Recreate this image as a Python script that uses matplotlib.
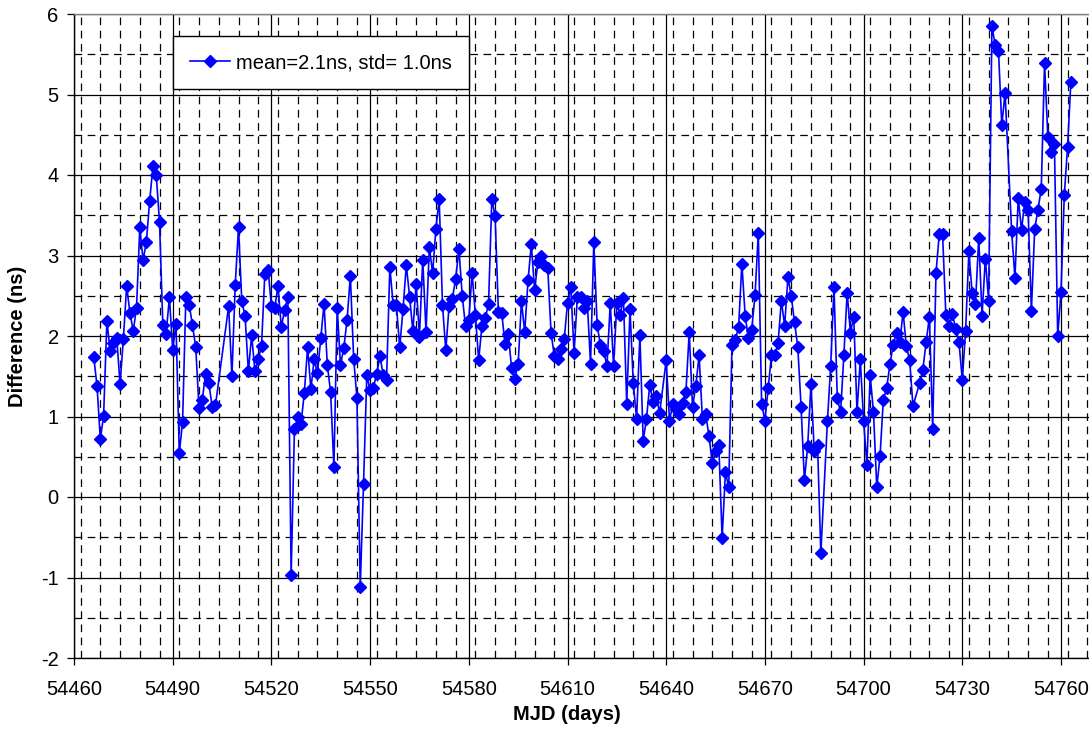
import matplotlib
matplotlib.use("Agg")
import matplotlib.pyplot as plt
from matplotlib.ticker import MultipleLocator

plt.rcParams['font.family'] = ['Liberation Sans', 'DejaVu Sans']
plt.rcParams['lines.scale_dashes'] = False
plt.rcParams['axes.unicode_minus'] = False

mjd = [54466, 54467, 54468, 54469, 54470, 54471, 54472, 54473, 54474, 54475,
       54476, 54477, 54478, 54479, 54480, 54481, 54482, 54483, 54484, 54485,
       54486, 54487, 54488, 54489, 54490, 54491, 54492, 54493, 54494, 54495,
       54496, 54497, 54498, 54499, 54500, 54501, 54502, 54503,
       54507, 54508, 54509, 54510, 54511, 54512, 54513, 54514, 54515, 54516,
       54517, 54518, 54519, 54520, 54521, 54522, 54523, 54524, 54525, 54526,
       54527, 54528, 54529, 54530, 54531, 54532, 54533, 54534, 54535, 54536,
       54537, 54538, 54539, 54540, 54541, 54542, 54543, 54544, 54545, 54546,
       54547, 54548, 54549, 54550, 54551, 54552, 54553, 54554, 54555, 54556,
       54557, 54558, 54559, 54560, 54561, 54562, 54563, 54564, 54565, 54566,
       54567, 54568, 54569, 54570, 54571, 54572, 54573, 54574, 54575, 54576,
       54577, 54578, 54579, 54580, 54581, 54582, 54583, 54584, 54585, 54586,
       54587, 54588, 54589, 54590, 54591, 54592, 54593, 54594, 54595, 54596,
       54597, 54598, 54599, 54600, 54601, 54602, 54603, 54604, 54605, 54606,
       54607, 54608, 54609, 54610, 54611, 54612, 54613, 54614, 54615, 54616,
       54617, 54618, 54619, 54620, 54621, 54622, 54623, 54624, 54625, 54626,
       54627, 54628, 54629, 54630, 54631, 54632, 54633, 54634, 54635, 54636,
       54637, 54638, 54640, 54641, 54642, 54643, 54644, 54645, 54646, 54647,
       54648, 54649, 54650, 54651, 54652, 54653, 54654, 54655, 54656, 54657,
       54658, 54659, 54660, 54661, 54662, 54663, 54664, 54665, 54666, 54667,
       54668, 54669, 54670, 54671, 54672, 54673, 54674, 54675, 54676, 54677,
       54678, 54679, 54680, 54681, 54682, 54683, 54684, 54685, 54686, 54687,
       54689, 54690, 54691, 54692, 54693, 54694, 54695, 54696, 54697, 54698,
       54699, 54700, 54701, 54702, 54703, 54704, 54705, 54706, 54707, 54708,
       54709, 54710, 54711, 54712, 54713, 54714, 54715, 54717, 54718, 54719,
       54720, 54721, 54722, 54723, 54724, 54725, 54726, 54727, 54728, 54729,
       54730, 54731, 54732, 54733, 54734, 54735, 54736, 54737, 54738, 54739,
       54740, 54741, 54742, 54743, 54745, 54746, 54747, 54748, 54749, 54750,
       54751, 54752, 54753, 54754, 54755, 54756, 54757, 54758, 54759, 54760,
       54761, 54762, 54763]

diff_ns = [1.74, 1.38, 0.72, 1.01, 2.19, 1.81, 1.91, 1.97, 1.40, 1.96,
           2.62, 2.29, 2.06, 2.35, 3.35, 2.94, 3.17, 3.68, 4.11, 4.00,
           3.41, 2.14, 2.03, 2.48, 1.83, 2.15, 0.55, 0.93, 2.48, 2.39,
           2.14, 1.86, 1.10, 1.21, 1.53, 1.41, 1.12, 1.14,
           2.37, 1.50, 2.63, 3.35, 2.43, 2.25, 1.56, 2.01, 1.56, 1.71,
           1.88, 2.77, 2.82, 2.37, 2.35, 2.62, 2.11, 2.32, 2.49, -0.97,
           0.84, 1.00, 0.91, 1.29, 1.86, 1.34, 1.71, 1.54, 1.97, 2.40,
           1.64, 1.30, 0.37, 2.35, 1.64, 1.85, 2.20, 2.75, 1.72, 1.23,
           -1.12, 0.16, 1.51, 1.33, 1.36, 1.53, 1.75, 1.51, 1.45, 2.86,
           2.39, 2.38, 1.86, 2.33, 2.88, 2.49, 2.06, 2.65, 1.99, 2.95,
           2.05, 3.11, 2.78, 3.33, 3.70, 2.39, 1.82, 2.37, 2.46, 2.71,
           3.08, 2.50, 2.12, 2.20, 2.78, 2.26, 1.70, 2.13, 2.22, 2.40,
           3.70, 3.49, 2.30, 2.29, 1.90, 2.03, 1.60, 1.47, 1.65, 2.43,
           2.05, 2.69, 3.14, 2.57, 2.92, 2.99, 2.88, 2.84, 2.04, 1.75,
           1.71, 1.84, 1.96, 2.41, 2.61, 1.79, 2.49, 2.49, 2.35, 2.43,
           1.65, 3.17, 2.14, 1.89, 1.81, 1.63, 2.41, 1.63, 2.41, 2.26,
           2.47, 1.16, 2.33, 1.41, 0.97, 2.01, 0.70, 0.97, 1.39, 1.18,
           1.26, 1.04, 1.70, 0.95, 1.15, 1.09, 1.03, 1.17, 1.31, 2.05,
           1.12, 1.38, 1.76, 0.97, 1.03, 0.76, 0.42, 0.57, 0.64, -0.51,
           0.31, 0.12, 1.89, 1.95, 2.11, 2.90, 2.25, 1.97, 2.08, 2.51,
           3.28, 1.16, 0.95, 1.36, 1.76, 1.76, 1.91, 2.44, 2.13, 2.73,
           2.50, 2.17, 1.86, 1.12, 0.21, 0.63, 1.40, 0.57, 0.65, -0.70,
           0.94, 1.63, 2.61, 1.23, 1.05, 1.76, 2.54, 2.04, 2.24, 1.06,
           1.71, 0.94, 0.40, 1.51, 1.06, 0.12, 0.51, 1.21, 1.35, 1.65,
           1.89, 2.04, 1.92, 2.30, 1.87, 1.70, 1.13, 1.41, 1.58, 1.92,
           2.24, 0.85, 2.78, 3.27, 3.27, 2.26, 2.13, 2.27, 2.09, 1.92,
           1.45, 2.06, 3.05, 2.53, 2.40, 3.22, 2.25, 2.96, 2.44, 5.85,
           5.61, 5.54, 4.62, 5.02, 3.30, 2.72, 3.71, 3.32, 3.67, 3.56,
           2.31, 3.33, 3.57, 3.83, 5.39, 4.47, 4.29, 4.39, 2.00, 2.55,
           3.75, 4.35, 5.16]

legend_label = "mean=2.1ns, std= 1.0ns"
x_ticks = [54460, 54490, 54520, 54550, 54580, 54610, 54640, 54670, 54700, 54730, 54760]
y_ticks = [-2, -1, 0, 1, 2, 3, 4, 5, 6]

FS = 14.5
W, H = 1089, 736
fig = plt.figure(figsize=(W / 100, H / 100), dpi=100)
left, right, top, bottom = 74, 1089, 14, 658
ax = fig.add_axes([left / W, 1 - bottom / H, (right - left) / W, (bottom - top) / H])

ax.plot(mjd, diff_ns, '-D', color='#0000FF', mfc='#0000FF', mec='#0000FF',
        ms=6.2, lw=1.2, label=legend_label, zorder=3)

ax.set_xlim(54460, 54460 + (right - left) / 3.29)
ax.set_ylim(-2, 6)
ax.set_xticks(x_ticks)
ax.set_yticks(y_ticks)
ax.xaxis.set_minor_locator(MultipleLocator(6))
ax.yaxis.set_minor_locator(MultipleLocator(0.5))

ax.grid(which='major', color='black', lw=0.9, ls='-', zorder=0)
ax.grid(which='minor', color='black', lw=0.9, ls=(0, (5.5, 4)), zorder=0)
ax.set_axisbelow(True)

ax.tick_params(which='major', direction='out', length=5, width=0.9, labelsize=FS,
               colors='black')
ax.tick_params(axis='x', which='major', pad=11)
ax.tick_params(axis='y', which='major', pad=6)
ax.tick_params(which='minor', length=0)

for s in ['left', 'bottom']:
    ax.spines[s].set_color('black')
    ax.spines[s].set_linewidth(1.0)
ax.spines['top'].set_color('#808080')
ax.spines['top'].set_linewidth(1.0)
ax.spines['right'].set_visible(False)

fig.text(567 / W, 1 - 714 / H, "MJD (days)", ha='center', va='center',
         fontsize=FS, fontweight='bold')
fig.text(18 / W, 1 - 336 / H, "Difference (ns)", ha='center', va='center',
         rotation=90, fontsize=FS, fontweight='bold')

leg = ax.legend(loc='upper left',
                bbox_to_anchor=((172.7 - left) / (right - left), 1 - (36 - top) / (bottom - top)),
                fontsize=FS, frameon=True, fancybox=False, edgecolor='black',
                framealpha=1, borderpad=0.85, handlelength=2.0, borderaxespad=0,
                handletextpad=0.3)
leg.get_frame().set_linewidth(1.0)

fig.savefig("out.png", dpi=100)
